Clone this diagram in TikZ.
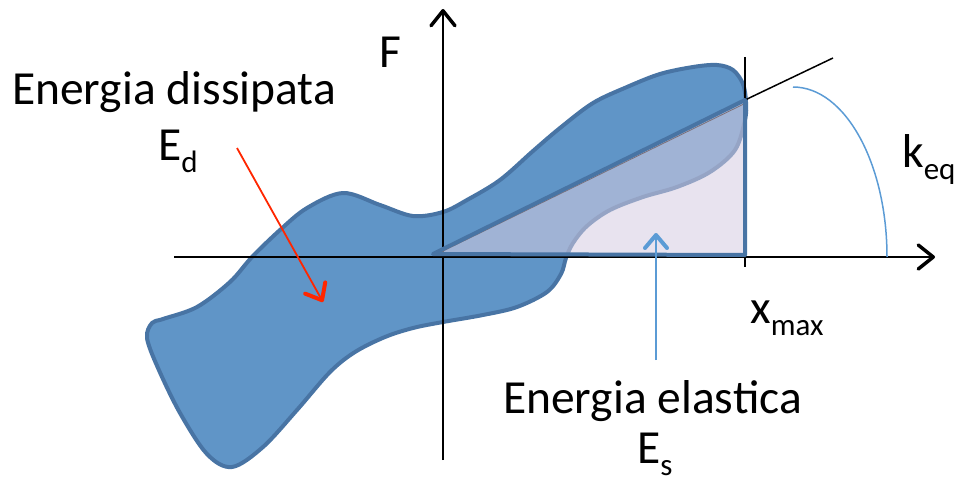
\documentclass[tikz,border=0pt]{standalone}
\usepackage{fontspec}
\setmainfont{Carlito}
\usetikzlibrary{arrows.meta,calc}
\definecolor{loopfill}{RGB}{96,149,199}
\definecolor{loopedge}{RGB}{72,116,164}
\definecolor{trifill}{RGB}{213,204,225}
\definecolor{lightblue}{RGB}{91,155,213}
\definecolor{redarrow}{RGB}{255,38,0}
\definecolor{hairline}{RGB}{125,112,120}
\newcommand{\sbx}[1]{\raisebox{-12pt}{\fontsize{31}{31}\selectfont #1}}
\tikzset{
  chev/.style={-{Straight Barb[length=15pt,width=24pt,line width=3.5pt,round]}},
  axisline/.style={draw=black,line width=2pt},
  lbl/.style={inner sep=0pt,anchor=base west,font=\fontsize{47.5}{56}\selectfont},
  loopshape/.style={fill=loopfill,draw=loopedge,line width=4pt,line join=round},
  trishape/.style={draw=loopedge,line width=4pt,line join=round},
}
\begin{document}
\begin{tikzpicture}[x=1pt,y=-1pt]
\useasboundingbox (0,0) rectangle (959,487);
% hysteresis loop
\path[loopshape] plot[smooth cycle,tension=0.55] coordinates {
(152,323) (163,319) (197,307) (230,282) (252,257) (280,230) (307,208) (343,193)
(380,205) (413,216) (443,212) (467,200) (500,180) (533,151) (560,128) (593,103)
(627,87) (660,74) (693,67) (717,65) (733,70) (743,84) (746,102) (745,120)
(735,150) (710,172) (677,187) (643,197) (610,210) (587,226) (573,243) (566,258)
(561,274) (547,292) (517,307) (483,315) (443,322) (413,328) (385,337) (355,352)
(330,372) (297,410) (263,447) (232,467) (207,454) (180,413) (158,368) (147,338)
};
% coordinates
\coordinate (O) at (433,254);
\coordinate (P) at (745,100);
\coordinate (Q) at (745,255);
\coordinate (yb) at (443,460);
\coordinate (yt) at (443,9);
\coordinate (xl) at (174,257);
\coordinate (xr) at (935,257);
\coordinate (tt) at (745,57);
\coordinate (tb) at (745,267);
\coordinate (se) at (833,58);
% axes and auxiliary black lines
\draw[axisline,chev] (yb) -- (yt);
\draw[axisline,chev] (xl) -- (xr);
\draw[black,line width=1.5pt] (tt) -- (tb);
\draw[black,line width=1.5pt] (P) -- (se);
% elastic energy triangle
\fill[trifill,fill opacity=0.55] (O) -- (P) -- (Q) -- cycle;
\draw[hairline,line width=0.8pt] ($(O)+(5,-0.5)$) -- ($(P)+(0.5,3.2)$);
\draw[trishape] (O) -- (P) -- (Q) -- cycle;
% k_eq arc
\draw[lightblue,line width=1.5pt] (793,87) arc[start angle=90,end angle=0,x radius=94,y radius=-170];
% arrows
\coordinate (ra) at (237,148);
\coordinate (rb) at (323,302);
\draw[redarrow,line width=1.8pt,-{Straight Barb[length=14pt,width=23pt,line width=4pt,round]}] (ra) -- (rb);
\coordinate (ba) at (656,360);
\coordinate (bb) at (656,233);
\draw[lightblue,line width=2pt,-{Straight Barb[length=13pt,width=22pt,line width=4pt,round]}] (ba) -- (bb);
% labels
\node[lbl] (F) at (379,68) {F};
\node[lbl] (ed) at (12,105) {Energia dissipata};
\node[lbl] (edsym) at (158,160) {E\sbx{d}};
\node[lbl] (keq) at (902,167) {k\sbx{eq}};
\node[lbl] (xmax) at (750,323) {x\sbx{max}};
\node[lbl] (ee) at (503,413) {Energia elastica};
\node[lbl] (essym) at (637,463) {E\sbx{s}};
\end{tikzpicture}
\end{document}
